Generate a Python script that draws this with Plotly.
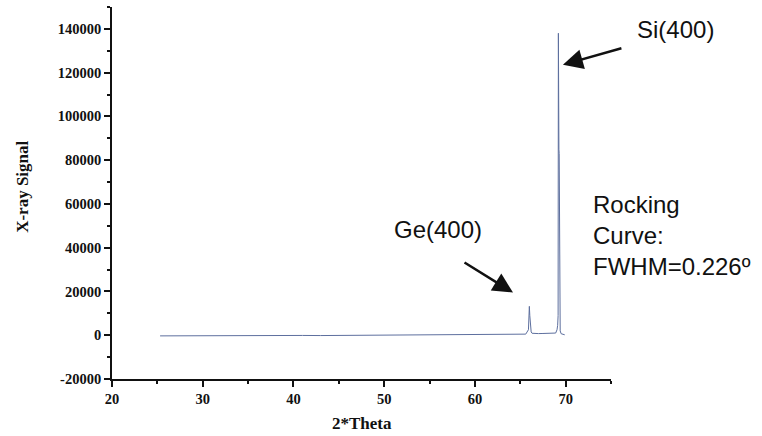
import plotly.graph_objects as go

# ---- data ----
two_theta = [25.3, 27, 29, 31, 33, 35, 37, 39, 41, 43, 45, 47, 49, 51, 53, 55, 57, 59, 61, 63, 65,
             65.6, 65.9, 66.0, 66.05, 66.1, 66.15, 66.2, 66.3, 66.5, 67.0, 67.5, 68.0, 68.5, 68.9,
             69.05, 69.12, 69.17, 69.2, 69.23, 69.26, 69.29, 69.33, 69.4, 69.5, 69.7, 69.9]
xray_signal = [-300, -250, -200, -250, -200, -150, -200, -150, -100, -150, -100, -50, -100, -50, 0,
               50, 0, 100, 150, 200, 300,
               500, 2500, 13200, 9000, 6700, 6000, 1500, 900, 800, 750, 800, 800, 850, 1000,
               2500, 4500, 9000, 138000, 60000, 85000, 83000, 5000, 2000, 700, 300, 200]

y_tickvals = [-20000, 0, 20000, 40000, 60000, 80000, 100000, 120000, 140000]
y_ticktext = ["-20000", "0", "20000", "40000", "60000", "80000", "100000", "120000", "140000"]
x_tickvals = [20, 30, 40, 50, 60, 70]
x_ticktext = ["20", "30", "40", "50", "60", "70"]

serif = "Liberation Serif"
sans = "Liberation Sans"

fig = go.Figure()
fig.add_trace(go.Scatter(x=two_theta, y=xray_signal, mode="lines",
                         line=dict(color="#5d6f9e", width=1), showlegend=False))

axis_common = dict(showline=True, linecolor="#111111", linewidth=1.8, ticks="outside",
                   tickcolor="#111111", tickwidth=1.6, ticklen=6, showgrid=False, zeroline=False,
                   tickfont=dict(family=serif, size=14.5, color="#111111", weight="bold"))

fig.update_xaxes(range=[20, 75], tickvals=x_tickvals, ticktext=x_ticktext,
                 minor=dict(dtick=5, tick0=0, ticks="outside", ticklen=3, tickwidth=1.6,
                            tickcolor="#111111", showgrid=False),
                 **axis_common)
fig.update_yaxes(range=[-20000, 150000], tickvals=y_tickvals, ticktext=y_ticktext,
                 minor=dict(dtick=10000, tick0=0, ticks="outside", ticklen=3, tickwidth=1.6,
                            tickcolor="#111111", showgrid=False),
                 **axis_common)

annotations = [
    # axis titles
    dict(text="<b>X-ray Signal</b>", xref="paper", yref="paper", x=-0.18, y=0.517,
         textangle=-90, showarrow=False, xanchor="center", yanchor="middle",
         font=dict(family=serif, size=17, color="#111111")),
    dict(text="<b>2*Theta</b>", xref="paper", yref="paper", x=0.5, y=-0.12,
         showarrow=False, xanchor="center", yanchor="middle",
         font=dict(family=serif, size=17, color="#111111")),
    # labels
    dict(text="Si(400)", xref="paper", yref="paper", x=1.129, y=0.9395,
         showarrow=False, xanchor="center", yanchor="middle",
         font=dict(family=sans, size=24, color="#111111")),
    dict(text="Ge(400)", xref="paper", yref="paper", x=0.654, y=0.402,
         showarrow=False, xanchor="center", yanchor="middle",
         font=dict(family=sans, size=24, color="#111111")),
    dict(text="Rocking<br>Curve:<br>FWHM=0.226º", xref="paper", yref="paper", x=0.9605, y=0.386,
         showarrow=False, xanchor="left", yanchor="middle", align="left",
         font=dict(family=sans, size=24, color="#111111")),
    # arrows
    dict(text="", x=69.7, y=123600, xref="x", yref="y", ax=60, ay=-17,
         showarrow=True, arrowhead=2, arrowsize=1.6, arrowwidth=2.5, arrowcolor="#111111",
         standoff=0),
    dict(text="", x=64.2, y=19500, xref="x", yref="y", ax=-50, ay=-31,
         showarrow=True, arrowhead=2, arrowsize=1.6, arrowwidth=2.5, arrowcolor="#111111",
         standoff=0),
]

fig.update_layout(width=762, height=436, margin=dict(l=112, r=151, t=7, b=57),
                  paper_bgcolor="white", plot_bgcolor="white", annotations=annotations)

fig.write_html("out.html")
